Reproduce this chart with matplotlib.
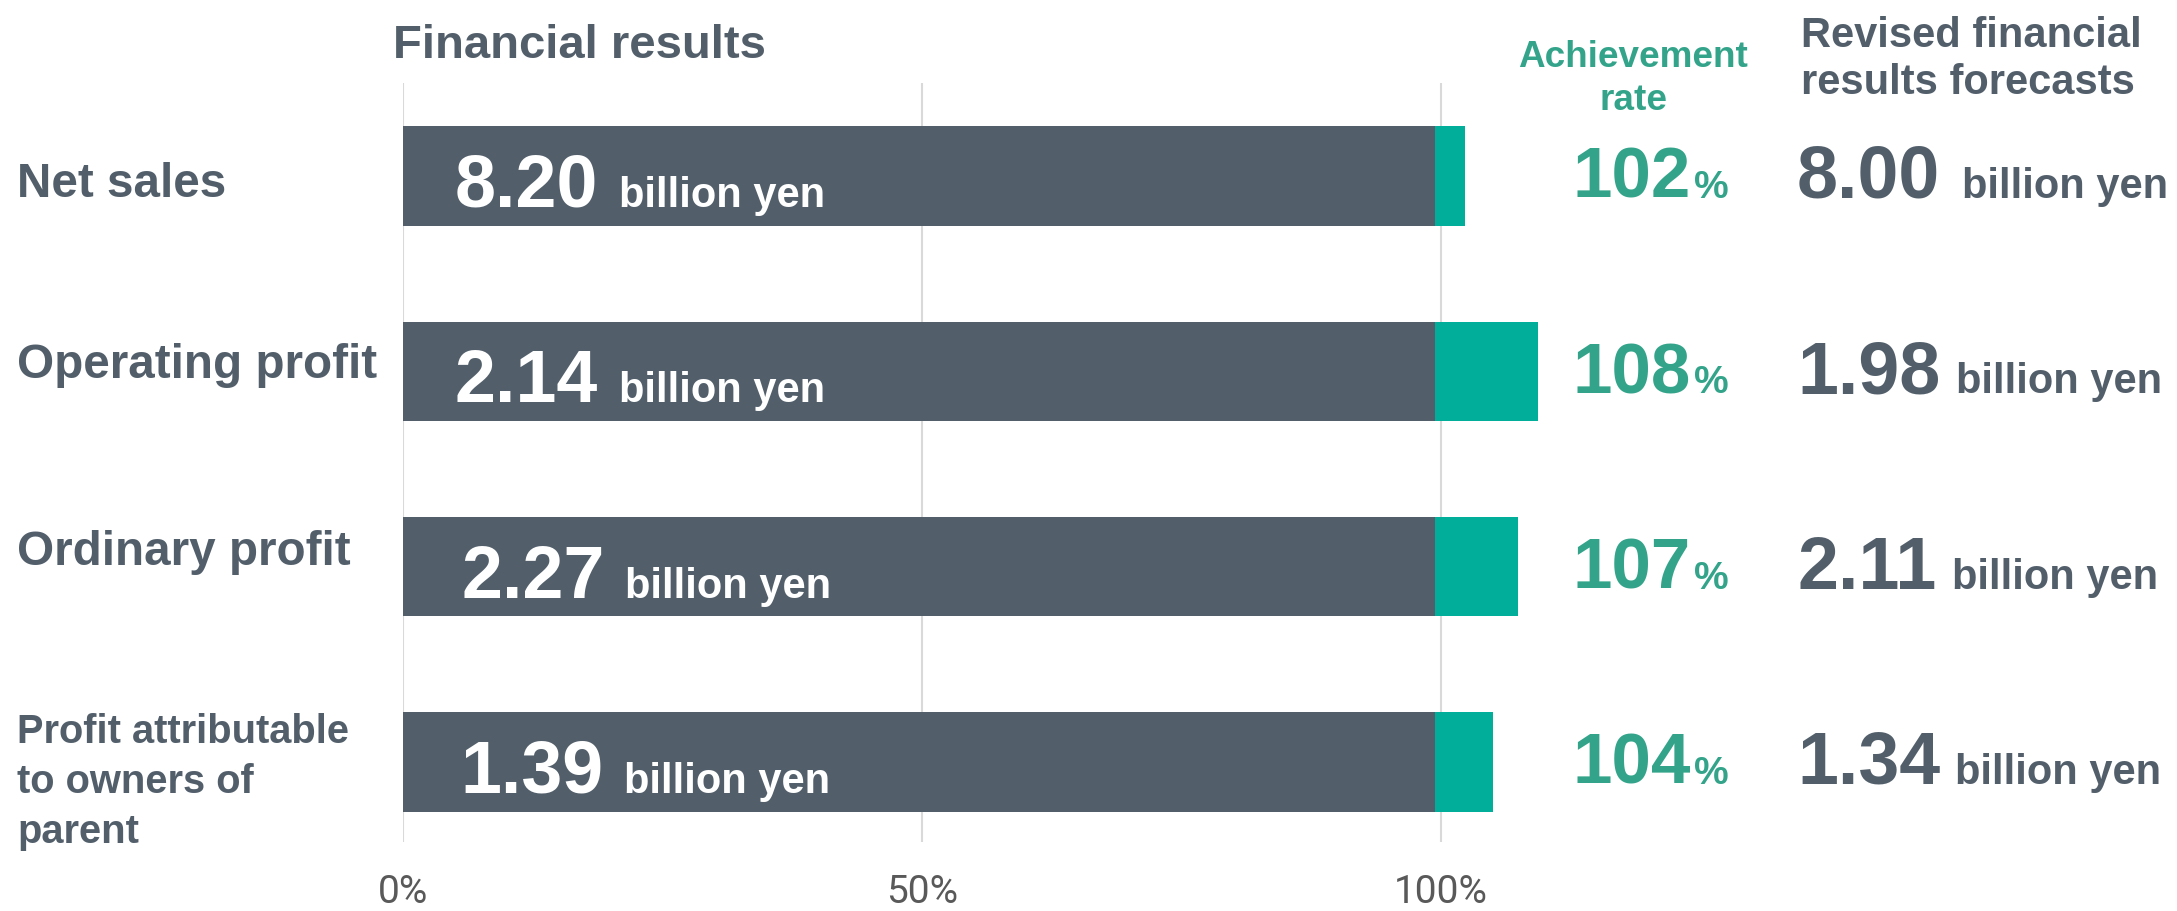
import matplotlib
matplotlib.use("Agg")
import matplotlib.pyplot as plt
from matplotlib import transforms

# data
items = ['Net sales', 'Operating profit', 'Ordinary profit',
         'Profit attributable\nto owners of\nparent']
results = ['8.20', '2.14', '2.27', '1.39']      # billion yen
forecasts = ['8.00', '1.98', '2.11', '1.34']    # billion yen
rates = ['102', '108', '107', '104']            # achievement rate, %
base_pct = [99.5, 99.5, 99.5, 99.5]             # dark part of the bar
total_pct = [102.4, 109.4, 107.5, 105.1]        # end of the green part
ticks = [0, 50, 100]
tick_labels = ['0%', '50%', '100%']

dark = '#525f6b'
green = '#00ae99'
teal = '#33a48a'
grey = '#595959'

plt.rcParams['font.family'] = ['Liberation Sans', 'DejaVu Sans']

W, H = 2177, 912
x0_px, px_per_pct = 403, 10.375
row0_px, row_px = 177, 195.33
grid_top, grid_bot = 84, 843

fig = plt.figure(figsize=(W / 100, H / 100), dpi=100)
ax = fig.add_axes([x0_px / W, 1 - grid_bot / H, 1 - x0_px / W,
                   (grid_bot - grid_top) / H])
ax.set_xlim(0, (W - x0_px) / px_per_pct)
ax.set_ylim((grid_bot - row0_px) / row_px, (grid_top - row0_px) / row_px)

y = list(range(len(items)))
bar_h = 99.5 / row_px
extra = [t - b for t, b in zip(total_pct, base_pct)]
ax.barh(y, base_pct, height=bar_h, color=dark, zorder=2)
ax.barh(y, extra, left=base_pct, height=bar_h, color=green, zorder=2)

ax.set_xticks(ticks, tick_labels)
ax.grid(axis='x', color='#d9d9d9', lw=1.5, zorder=0)
ax.set_axisbelow(True)
for s in ax.spines.values():
    s.set_visible(False)
ax.tick_params(axis='x', length=0, pad=22, labelsize=28, labelcolor=grey)
ax.tick_params(axis='y', left=False, labelleft=False)
for lab in ax.get_xticklabels():
    lab.set_family(['Liberation Sans Narrow', 'Roboto', 'DejaVu Sans'])


def d(px):
    return px / row_px


trans = transforms.blended_transform_factory(fig.transFigure, ax.transData)

# row labels on the left
for i, name in enumerate(items):
    if '\n' in name:
        ax.text(17 / W, i + d(-50), name, transform=trans, ha='left', va='top',
                fontsize=28.7, fontweight='bold', color=dark, linespacing=1.40)
    else:
        shift = [20, 6, -3][i]
        ax.text(17 / W, i + d(shift), name, transform=trans, ha='left',
                va='baseline', fontsize=34.3, fontweight='bold', color=dark)

# values inside the bars
num_x = [5, 5, 5.6, 5.5]
for i, val in enumerate(results):
    t = ax.text(num_x[i], i + d(30), val, ha='left', va='baseline',
                fontsize=53, fontweight='bold', color='white', zorder=3)
    ax.annotate('billion yen', xy=(1, i + d(30)), xycoords=(t, ax.transData),
                xytext=(15, 0), textcoords='offset points', ha='left',
                va='baseline', fontsize=30, fontweight='bold', color='white',
                zorder=3)

# achievement rate and revised forecast columns
for i in y:
    ax.text(1691 / W, i + d(21), rates[i], transform=trans, ha='right',
            va='baseline', fontsize=51, fontweight='bold', color=teal)
    ax.text(1694 / W, i + d(21), '%', transform=trans, ha='left',
            va='baseline', fontsize=28, fontweight='bold', color=teal)
    t = ax.text(1797 / W, i + d(21), forecasts[i], transform=trans, ha='left',
                va='baseline', fontsize=53, fontweight='bold', color=dark)
    ax.annotate('billion yen', xy=(1, i + d(21)), xycoords=(t, ax.transData),
                xytext=(16 if i == 0 else 11, 0), textcoords='offset points',
                ha='left', va='baseline', fontsize=30, fontweight='bold',
                color=dark)

# column headers
fig.text(393 / W, 1 - 58 / H, 'Financial results', ha='left', va='baseline',
         fontsize=34, fontweight='bold', color=dark)
fig.text(1633 / W, 1 - 67 / H, 'Achievement', ha='center', va='baseline',
         fontsize=26.6, fontweight='bold', color=teal)
fig.text(1633 / W, 1 - 110 / H, 'rate', ha='center', va='baseline',
         fontsize=26.6, fontweight='bold', color=teal)
fig.text(1801 / W, 1 - 47 / H, 'Revised financial', ha='left', va='baseline',
         fontsize=30, fontweight='bold', color=dark)
fig.text(1801 / W, 1 - 94 / H, 'results forecasts', ha='left', va='baseline',
         fontsize=30, fontweight='bold', color=dark)

fig.savefig('out.png', dpi=100, facecolor='white')
